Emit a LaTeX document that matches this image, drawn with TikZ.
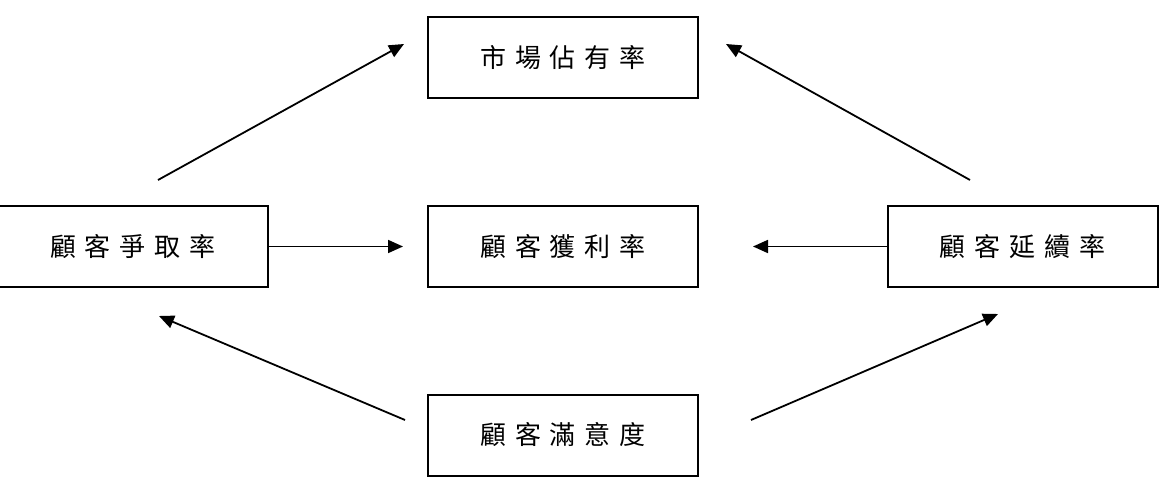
\documentclass[tikz,border=0pt]{standalone}
\usepackage{fontspec}
\newfontfamily\cjk{Noto Sans CJK TC}
\usetikzlibrary{arrows.meta}
\begin{document}
\begin{tikzpicture}[x=1pt,y=-1pt,
  box/.style={draw=black,line width=2pt,minimum width=270pt,minimum height=81pt,inner sep=0pt,font=\cjk\fontsize{26}{28}\selectfont},
  conn/.style={line width=1.8pt,-{Triangle[length=15pt,width=13pt]}}]
\useasboundingbox (0,0) rectangle (1164,481);
\node[box] (top) at (563,57.5) {市\hspace{9pt}場\hspace{9pt}佔\hspace{9pt}有\hspace{9pt}率};
\node[box] (mid) at (563,246.5) {顧\hspace{9pt}客\hspace{9pt}獲\hspace{9pt}利\hspace{9pt}率};
\node[box] (lft) at (133,246.5) {顧\hspace{9pt}客\hspace{9pt}爭\hspace{9pt}取\hspace{9pt}率};
\node[box] (rgt) at (1022.5,246.5) {顧\hspace{9pt}客\hspace{9pt}延\hspace{9pt}續\hspace{9pt}率};
\node[box] (bot) at (563,435) {顧\hspace{9pt}客\hspace{9pt}滿\hspace{9pt}意\hspace{9pt}度};
\coordinate (a1s) at (158,180); \coordinate (a1e) at (404,44);
\coordinate (a2s) at (970,180); \coordinate (a2e) at (726,44);
\coordinate (a3s) at (405,420); \coordinate (a3e) at (159,316);
\coordinate (a4s) at (751,420); \coordinate (a4e) at (998,314);
\draw[conn] (lft.east) -- ([xshift=-24pt]mid.west);
\draw[conn] (rgt.west) -- ([xshift=54pt]mid.east);
\draw[conn] (a1s) -- (a1e);
\draw[conn] (a2s) -- (a2e);
\draw[conn] (a3s) -- (a3e);
\draw[conn] (a4s) -- (a4e);
\end{tikzpicture}
\end{document}
